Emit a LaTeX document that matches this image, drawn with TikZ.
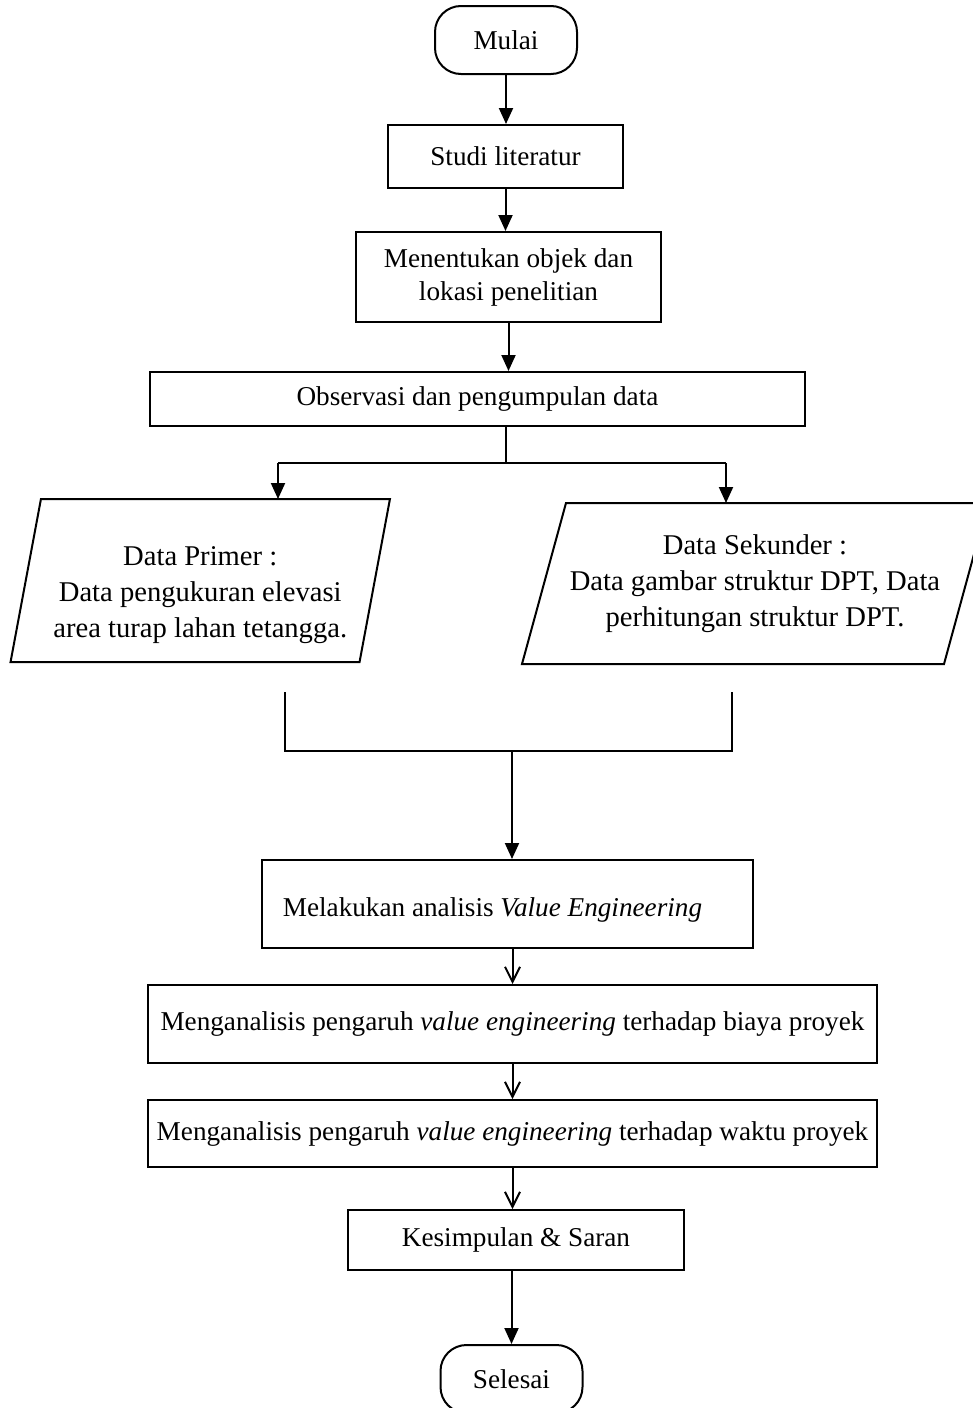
\documentclass[tikz,border=0pt]{standalone}
\usepackage{fontspec}
\setmainfont{Liberation Serif}
\usetikzlibrary{positioning,arrows.meta,calc}

\begin{document}
\begin{tikzpicture}[x=0.5pt,y=-0.5pt,line width=1pt,
  box/.style={draw,rectangle,inner sep=2pt,align=center,font=\fontsize{13.6}{16.5}\selectfont},
  term/.style={box,rounded corners=13pt,minimum width=71pt,minimum height=34pt},
  io/.style={rectangle,inner sep=2pt,align=center,font=\fontsize{14.3}{18}\selectfont},
  flow/.style={-{Triangle[length=8pt,width=7pt]}},
  flowthin/.style={line width=1pt,-{Straight Barb[length=7.5pt,width=7.5pt]}}]
  \useasboundingbox (0,0) rectangle (973,1408);

  \node[term] (start) at (506,40) {Mulai};
  \node[box,minimum width=117.5pt,minimum height=31.5pt] (studi) at (505.5,156.5) {Studi literatur};
  \node[box,minimum width=152.5pt,minimum height=45pt] (tentukan) at (508.5,277) {Menentukan objek dan\\lokasi penelitian};
  \node[box,minimum width=327.5pt,minimum height=27pt] (obs) at (477.5,399) {Observasi dan pengumpulan data};

  % data masukan
  \node[io,minimum width=173.5pt,minimum height=80.5pt] (primer) at (200.25,580.5) {\rule{0pt}{24pt}Data Primer :\\Data pengukuran elevasi\\area turap lahan tetangga.};
  \node[io,minimum width=210pt,minimum height=79.5pt] (sekunder) at (755,583.5) {Data Sekunder :\\Data gambar struktur DPT, Data\\perhitungan struktur DPT.};
  \draw ([xshift=7.6pt]primer.north west) -- ([xshift=7.6pt]primer.north east) -- ([xshift=-7.6pt]primer.south east) -- ([xshift=-7.6pt]primer.south west) -- cycle;
  \draw ([xshift=11pt]sekunder.north west) -- ([xshift=11pt]sekunder.north east) -- ([xshift=-11pt]sekunder.south east) -- ([xshift=-11pt]sekunder.south west) -- cycle;

  \node[box,minimum width=245.5pt,minimum height=44pt] (analisis) at (507.5,904) {\rule{0pt}{15pt}Melakukan analisis \textit{Value Engineering}\hspace*{15pt}};
  \node[box,minimum width=364.5pt,minimum height=39pt] (biaya) at (512.5,1024) {Menganalisis pengaruh \textit{value engineering} terhadap biaya proyek};
  \node[box,minimum width=364.5pt,minimum height=33.5pt] (waktu) at (512.5,1133.5) {Menganalisis pengaruh \textit{value engineering} terhadap waktu proyek};
  \node[box,minimum width=168pt,minimum height=30pt] (simpul) at (516,1240) {Kesimpulan \& Saran};
  \node[term] (stop) at (511.5,1379) {Selesai};

  \draw[flow] (start.south) -- (start.south |- studi.north);
  \draw[flow] (studi.south) -- (studi.south |- tentukan.north);
  \draw[flow] (tentukan.south) -- (tentukan.south |- obs.north);

  % percabangan
  \coordinate (split) at (506,463);
  \coordinate (splitL) at (278,463);
  \coordinate (splitR) at (726,463);
  \draw (obs.south -| split) -- (split);
  \draw (splitL) -- (splitR);
  \draw[flow] (splitL) -- (splitL |- primer.north);
  \draw[flow] (splitR) -- (splitR |- sekunder.north);

  % penggabungan
  \coordinate (joinL) at (285,692);
  \coordinate (joinR) at (732,692);
  \coordinate (join) at (512,751);
  \draw (joinL) |- (join) -| (joinR);
  \draw[flow] (join) -- (join |- analisis.north);

  \draw[flowthin] (biaya.north |- analisis.south) -- (biaya.north);
  \draw[flowthin] (biaya) -- (waktu);
  \draw[flowthin] (waktu.south) -- (waktu.south |- simpul.north);
  \draw[flow] (stop.north |- simpul.south) -- (stop.north);
\end{tikzpicture}
\end{document}
